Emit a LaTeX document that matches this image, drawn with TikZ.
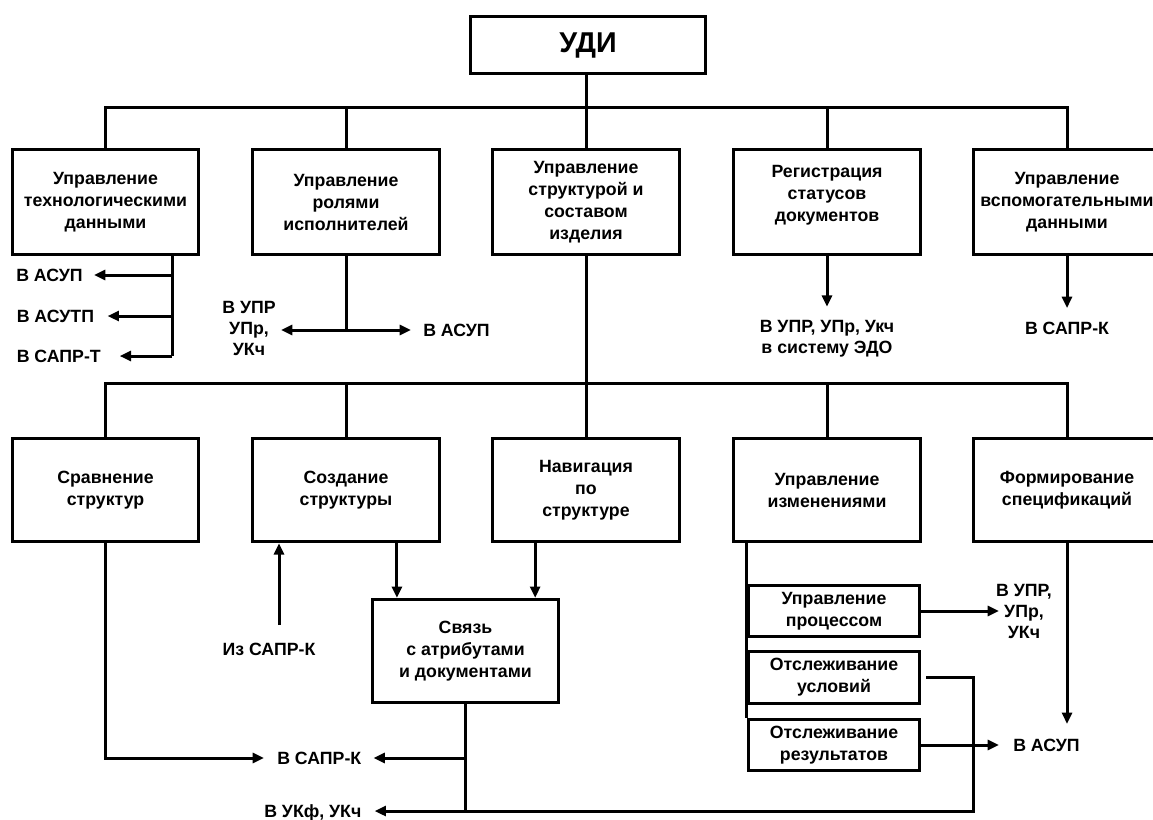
\documentclass[tikz,border=0pt]{standalone}
\usepackage{fontspec}
\setmainfont{Liberation Sans}
\usetikzlibrary{arrows.meta}
\begin{document}
\begin{tikzpicture}[x=0.75pt,y=-0.75pt,
  every node/.style={font=\bfseries\fontsize{13.3}{16.5}\selectfont},
  box/.style={draw, line width=2.25pt, align=center, inner sep=0pt, minimum width=140pt, minimum height=79pt},
  boxlow/.style={box, minimum height=77.5pt},
  subbox/.style={draw, line width=2.25pt, align=center, inner sep=0pt, minimum width=128.6pt, minimum height=38.6pt},
  lbl/.style={inner sep=0pt, text height=9.5pt, text depth=0pt},
  mlbl/.style={inner sep=0pt, align=center, font=\bfseries\fontsize{13.3}{16}\selectfont},
  ln/.style={line width=2.25pt},
  arr/.style={line width=2.25pt, -{Triangle[length=8.5pt,width=7.5pt]}},
]
\fill[white] (0,0) rectangle (1153,819);
\useasboundingbox (0,0) rectangle (1153,819);
\clip (0,0) rectangle (1153,819);

% top
\node[box, minimum width=176.6pt, minimum height=43pt, font=\bfseries\fontsize{21.5}{24}\selectfont] (udi) at (588,45) {УДИ};

% row 1
\node[box] (b1) at (105.5,202) {Управление\\технологическими\\данными};
\node[box] (b2) at (346,202) {Управление\\ролями\\исполнителей};
\node[box] (b3) at (586,202) {Управление\\структурой и\\составом\\изделия};
\node[box] (b4) at (827,202) {};
\node[align=center, inner sep=0pt] (b4t) at (827,195) {Регистрация\\статусов\\документов};
\node[box] (b5) at (1067,202) {Управление\\вспомогательными\\данными};

% row 2
\node[boxlow] (c1) at (105.5,490) {Сравнение\\структур};
\node[boxlow] (c2) at (346,490) {Создание\\структуры};
\node[boxlow] (c3) at (586,490) {Навигация\\по\\структуре};
\node[boxlow] (c4) at (827,490) {Управление\\изменениями};
\node[boxlow] (c5) at (1067,490) {Формирование\\спецификаций};

\node[boxlow] (s) at (465.5,651) {Связь\\с атрибутами\\и документами};

\node[subbox] (proc) at (834,611) {Управление\\процессом};
\node[subbox] (usl) at (834,677.5) {Отслеживание\\условий};
\node[subbox] (res) at (834,745) {Отслеживание\\результатов};

% labels
\node[lbl, anchor=west] (L1) at (16,275) {В АСУП};
\node[lbl, anchor=west] (L2) at (16.5,316) {В АСУТП};
\node[lbl, anchor=west] (L3) at (16.5,356) {В САПР-Т};
\node[mlbl] (L4) at (249,328.5) {В УПР\\УПр,\\УКч};
\node[lbl, anchor=west] (L5) at (423,330) {В АСУП};
\node[mlbl] (L6) at (827,339) {В УПР, УПр, Укч\\в систему ЭДО};
\node[lbl] (L7) at (1067,328) {В САПР-К};
\node[lbl, anchor=west] (L8) at (277,758) {В САПР-К};
\node[lbl, anchor=west] (L9) at (264,811) {В УКф, УКч};
\node[lbl] (L10) at (269,649) {Из САПР-К};
\node[mlbl] (L11) at (1024,611.5) {В УПР,\\УПр,\\УКч};
\node[lbl, anchor=west] (L12) at (1013,745) {В АСУП};

% coordinates
\coordinate (bus1) at (586,107);
\coordinate (bus2) at (586,383);
\coordinate (v1) at (172,356);
\coordinate (v2) at (346,330);
\coordinate (t2) at (281,330);
\coordinate (up) at (279,625);
\coordinate (sa) at ([xshift=19.7pt]s.north west);
\coordinate (sb) at ([xshift=-18.9pt]s.north east);
\coordinate (rc) at (973,811);
\coordinate (t11) at (999,611);

% top bus
\draw[ln] (b3.north |- udi.south) -- (b3.north);
\draw[ln] (b1.north) |- (bus1) -| (b5.north);
\draw[ln] (b2.north) -- (b2.north |- bus1);
\draw[ln] (b4.north) -- (b4.north |- bus1);

% row 1 outputs
\draw[ln] (v1 |- b1.south) -- (v1);
\draw[arr, shorten >=8.25pt] (L1.east -| v1) -- (L1.east);
\draw[arr, shorten >=10pt] (L2.east -| v1) -- (L2.east);
\draw[arr, shorten >=14pt] (v1) -- (L3.east);

\draw[ln] (b2.south) -- (v2);
\draw[arr] (v2) -- (t2);
\draw[arr, shorten >=9pt] (v2) -- (L5.west);

\draw[arr, shorten >=10pt] (b4.south) -- (L6.north);
\draw[arr, shorten >=10pt] (b5.south) -- (b5.south |- L7.north);

% second bus
\draw[ln] (b3.south) -- (c3.north);
\draw[ln] (c1.north) |- (bus2) -| (c5.north);
\draw[ln] (c2.north) -- (c2.north |- bus2);
\draw[ln] (c4.north) -- (c4.north |- bus2);

% row 2 outputs
\draw[arr, shorten >=9.75pt] (c1.south) |- (L8.west);
\draw[arr] (up) -- (up |- c2.south);
\draw[arr] (c2.south -| sa) -- (sa);
\draw[arr] (c3.south -| sb) -- (sb);

\draw[ln] (s.south) -- (s.south |- L9.east);
\draw[arr, shorten >=9pt] (s.south |- L8.east) -- (L8.east);
\draw[arr, shorten >=9.75pt] (s.south |- L9.east) -- (L9.east);
\draw[ln] ([xshift=3.75pt]usl.east) -| (rc) -- (s.south |- rc);

\draw[ln] (res.north west |- c4.south) -- (res.north west);
\draw[arr] (proc.east) -- (t11);
\draw[arr, shorten >=10.5pt] (res.east) -- (L12.west);
\draw[arr, shorten >=10.9pt] (c5.south) -- (c5.south |- L12.north);
\end{tikzpicture}
\end{document}
